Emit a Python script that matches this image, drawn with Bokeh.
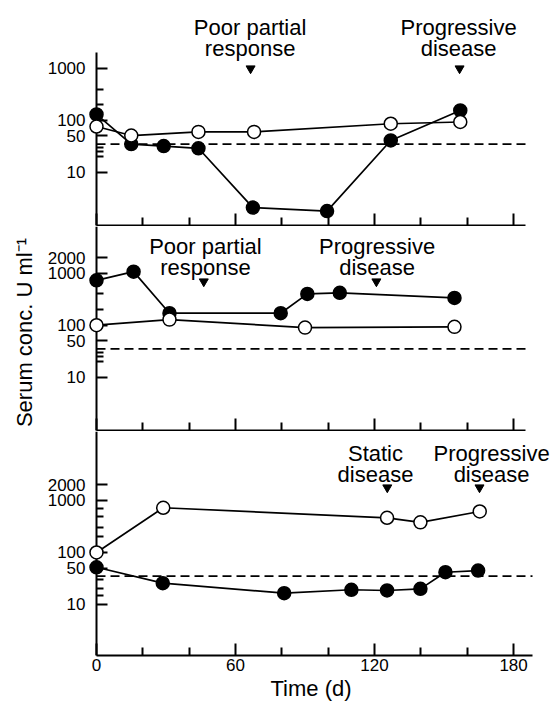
import math
from bokeh.plotting import figure
from bokeh.layouts import column
from bokeh.models import FixedTicker, Label, Range1d, Title
from bokeh.core.properties import value
from bokeh.embed import file_html
from bokeh.resources import INLINE

# ---------------- data ----------------
x_ticks = [0, 60, 120, 180]
x_minor = [20, 40, 80, 100, 140, 160]
cutoff = 35

# panel 1
p1_filled_t = [0, 15, 29, 44, 67.5, 99.5, 127, 157]
p1_filled_v = [130, 35, 32, 29, 2.1, 1.8, 41, 155]
p1_open_t = [0, 15, 44, 68, 127, 157]
p1_open_v = [76, 51, 60, 60, 86, 93]

# panel 2
p2_filled_t = [0, 16, 31.5, 79.5, 91, 105, 154.5]
p2_filled_v = [730, 1070, 170, 170, 400, 420, 335]
p2_open_t = [0, 31.5, 90, 154.5]
p2_open_v = [100, 128, 90, 93]

# panel 3
p3_filled_t = [0, 28.6, 81, 110, 125.4, 139.8, 150.6, 164.7]
p3_filled_v = [52, 25.7, 16.5, 19.2, 18.6, 20, 41.7, 45]
p3_open_t = [0, 28.8, 125.4, 139.8, 165.4]
p3_open_v = [100, 725, 465, 380, 615]

y_ticks_1 = [10, 50, 100, 1000]
y_labels_1 = ["10", "50", "100", "1000"]
y_minor_1 = [20, 25, 30, 200, 400]
y_ticks_2 = [10, 50, 100, 1000, 2000]
y_labels_2 = ["10", "50", "100", "1000", "2000"]
y_minor_2 = [20, 25, 30, 200, 400]
y_ticks_3 = [10, 50, 100, 1000, 2000]
y_labels_3 = ["10", "50", "100", "1000", "2000"]
y_minor_3 = [15, 20, 30, 200, 300, 500, 700]

# events: arrow time, line 1, line 2, text centre time
ev1_t = [66.5, 156.7]
ev1_l1 = ["Poor partial", "Progressive"]
ev1_l2 = ["response", "disease"]
ev1_tx = [66.3, 156.3]

ev2_t = [46.3, 120.8]
ev2_l1 = ["Poor partial", "Progressive"]
ev2_l2 = ["response", "disease"]
ev2_tx = [47.0, 121.1]

ev3_t = [125.5, 165.3]
ev3_l1 = ["Static", "Progressive"]
ev3_l2 = ["disease", "disease"]
ev3_tx = [120.4, 170.5]

y_title = "Serum conc. U ml\u207b\u00b9"
x_title = "Time (d)"

# ---------------- layout ----------------
FONT = "Liberation Sans"
PXD = 52.0       # px per decade
DAYPX = 2.317    # px per day
ORIGIN_X = 96    # page x of day 0
W = 555
X_START = -ORIGIN_X / DAYPX
X_END = (W - ORIGIN_X) / DAYPX
TICK_FS = "17px"
ANN_FS = "22px"


def make_panel(canvas_top, frame_top, frame_bottom, canvas_bottom, axis_right, axis_top,
               y_start, yt, ylab, ym, labels_x):
    frame_h = frame_bottom - frame_top
    y_end = y_start * 10 ** (frame_h / PXD)
    x_axis_end = (axis_right - ORIGIN_X) / DAYPX

    def ydata(img_y):
        return y_start * 10 ** ((frame_bottom - img_y) / PXD)

    p = figure(width=W, height=canvas_bottom - canvas_top,
               x_range=Range1d(X_START, X_END), y_range=Range1d(y_start, y_end),
               y_axis_type="log", output_backend="svg", toolbar_location=None,
               title=None,
               min_border_left=0, min_border_right=0,
               min_border_top=frame_top - canvas_top,
               min_border_bottom=canvas_bottom - frame_bottom)
    p.grid.visible = False
    p.outline_line_color = None
    p.background_fill_color = "white"
    p.border_fill_color = "white"

    xa = p.xaxis[0]
    xa.ticker = FixedTicker(ticks=x_ticks, minor_ticks=x_minor)
    xa.bounds = (0, x_axis_end)
    xa.axis_line_width = 2
    xa.major_tick_line_width = 2
    xa.minor_tick_line_width = 2
    xa.major_tick_in = 12
    xa.major_tick_out = 0
    xa.minor_tick_in = 8
    xa.minor_tick_out = 0
    if labels_x:
        xa.major_label_text_font = FONT
        xa.major_label_text_font_size = TICK_FS
        xa.major_label_text_color = "black"
        xa.major_label_standoff = 3
        p.add_layout(Title(text=x_title, align="left", offset=270, standoff=0,
                           text_font=FONT, text_font_size=ANN_FS,
                           text_font_style="normal", text_color="black"), "below")
    else:
        xa.major_label_text_font_size = "0px"
        xa.major_label_text_color = None
        xa.major_label_standoff = 0

    ya = p.yaxis[0]
    ya.ticker = FixedTicker(ticks=yt, minor_ticks=ym)
    ya.fixed_location = 0
    if axis_top is not None:
        ya.bounds = (y_start, ydata(axis_top))
    ya.axis_line_width = 2
    ya.major_tick_line_width = 2
    ya.minor_tick_line_width = 2
    ya.major_tick_in = 11
    ya.major_tick_out = 0
    ya.minor_tick_in = 7
    ya.minor_tick_out = 0
    ya.major_label_standoff = 0
    ya.major_label_text_font_size = "0px"
    ya.major_label_text_color = None

    # tick labels of the y axis, placed at the tick values
    p.text(x=[0] * len(yt), y=yt, text=ylab, x_offset=-11, text_align="right",
           text_baseline="middle", text_font=value(FONT), text_font_size=TICK_FS,
           text_color="black")

    # cut-off line
    p.line(x=[0, x_axis_end], y=[cutoff, cutoff], line_color="black",
           line_width=1.8, line_dash="9 5")

    return p, ydata


def add_series(p, ft, fv, ot, ov):
    for t, v in ((ft, fv), (ot, ov)):
        r = p.line(t, v, line_color="black", line_width=1.7)
        r.level = "overlay"
    r = p.scatter(ft, fv, size=13, fill_color="black", line_color="black", line_width=1.5)
    r.level = "overlay"
    r = p.scatter(ot, ov, size=13, fill_color="white", line_color="black", line_width=1.5)
    r.level = "overlay"


def add_events(p, ydata, et, l1, l2, tx, y1, y2, ya):
    p.scatter(et, [ydata(ya)] * len(et), marker="inverted_triangle", size=9,
              fill_color="black", line_color="black")
    for t, a, b in zip(tx, l1, l2):
        p.add_layout(Label(x=t, y=ydata(y1), text=a, text_align="center",
                           text_baseline="alphabetic", text_font=FONT,
                           text_font_size=ANN_FS, text_color="black"))
        p.add_layout(Label(x=t, y=ydata(y2), text=b, text_align="center",
                           text_baseline="alphabetic", text_font=FONT,
                           text_font_size=ANN_FS, text_color="black"))


p1, yd1 = make_panel(0, 0, 225, 226, 525, 52, 0.95, y_ticks_1, y_labels_1, y_minor_1, False)
add_series(p1, p1_filled_t, p1_filled_v, p1_open_t, p1_open_v)
add_events(p1, yd1, ev1_t, ev1_l1, ev1_l2, ev1_tx, 26.5, 48, 68)

p2, yd2 = make_panel(226, 226, 430, 431, 525, None, 0.944, y_ticks_2, y_labels_2, y_minor_2, False)
add_series(p2, p2_filled_t, p2_filled_v, p2_open_t, p2_open_v)
add_events(p2, yd2, ev2_t, ev2_l1, ev2_l2, ev2_tx, 246, 267, 281)
p2.add_layout(Label(x=(24 - ORIGIN_X) / DAYPX, y=yd2(332), text=y_title,
                    angle=math.pi / 2, text_align="center", text_baseline="middle",
                    text_font=FONT, text_font_size=ANN_FS, text_color="black"))

p3, yd3 = make_panel(431, 431, 655, 702, 532, None, 1.045, y_ticks_3, y_labels_3, y_minor_3, True)
add_series(p3, p3_filled_t, p3_filled_v, p3_open_t, p3_open_v)
add_events(p3, yd3, ev3_t, ev3_l1, ev3_l2, ev3_tx, 452.5, 473.5, 487)

layout = column(p1, p2, p3, spacing=0)
open("out.html", "w").write(file_html(layout, INLINE))
